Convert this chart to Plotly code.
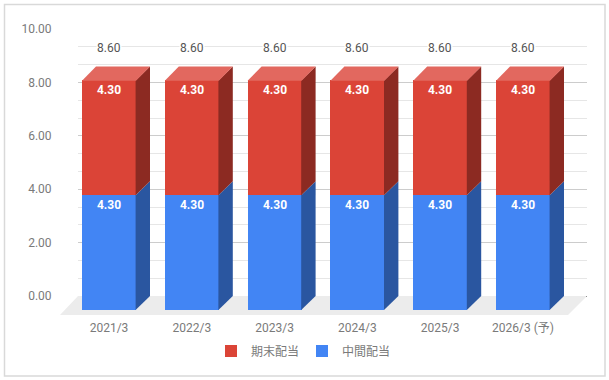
import plotly.graph_objects as go

categories = ["2021/3", "2022/3", "2023/3", "2024/3", "2025/3", "2026/3 (予)"]
interim = [4.30, 4.30, 4.30, 4.30, 4.30, 4.30]
final = [4.30, 4.30, 4.30, 4.30, 4.30, 4.30]
y_ticks = [0, 2, 4, 6, 8, 10]

W, H = 609, 380
FONT = "Roboto, 'Noto Sans CJK JP', sans-serif"
BLUE, BLUE_SIDE = "#4285f4", "#2a56a0"
RED, RED_SIDE, RED_TOP = "#db4437", "#8c2a22", "#e2685f"
GREY = "#7a7a7a"

# pixel scale of the chart
STEP_X, UNIT_Y = 82.8, 26.7
X0_PX, Y0_PX = 109, 310      # front-face origin (category 0, value 0)
BACK_Y0_PX, BACK_TOP_PX = 296, 29
BACK_L, BACK_R = 78, 587
BAR_W = 54 / STEP_X
DX, DY = 14 / STEP_X, 14 / UNIT_Y
SEAM_X, SEAM_Y = 0.4 / STEP_X, 0.4 / UNIT_Y

x_idx = list(range(len(categories)))
fig = go.Figure()

# invisible trace so the back plane axes are drawn
fig.add_trace(go.Scatter(x=[0], y=[0], mode="markers", marker=dict(opacity=0),
                         showlegend=False, hoverinfo="skip", xaxis="x", yaxis="y"))

fx = lambda px: (px - X0_PX) / STEP_X
fy = lambda py: (Y0_PX - py) / UNIT_Y


def poly(xs, ys, color):
    fig.add_trace(go.Scatter(x=xs, y=ys, mode="lines", fill="toself", fillcolor=color,
                             line=dict(width=0), showlegend=False, hoverinfo="skip",
                             xaxis="x2", yaxis="y2"))


for i, a, b in zip(x_idx, interim, final):
    l, r = i - BAR_W / 2, i + BAR_W / 2
    t = a + b
    s = r - SEAM_X
    poly([s, r + DX, r + DX, s, s], [0, DY, a + DY, a, 0], BLUE_SIDE)
    poly([s, r + DX, r + DX, s, s], [a, a + DY, t + DY, t, a], RED_SIDE)
    poly([l, l + DX, r + DX, r, l], [t - SEAM_Y, t + DY, t + DY, t - SEAM_Y, t - SEAM_Y], RED_TOP)

for name, vals, color, rank in [("中間配当", interim, BLUE, 2), ("期末配当", final, RED, 1)]:
    fig.add_trace(go.Bar(
        x=x_idx, y=vals, name=name, width=BAR_W, legendrank=rank,
        marker=dict(color=color, line=dict(width=0)),
        texttemplate="<b>%{y:.2f}</b>", textposition="inside", insidetextanchor="end",
        textangle=0, constraintext="none",
        textfont=dict(family=FONT, size=12, color="#ffffff"),
        xaxis="x2", yaxis="y2"))

annotations = [
    dict(x=i, y=a + b + 1.23, xref="x2", yref="y2", text=f"{a + b:.2f}", showarrow=False,
         bgcolor="#ffffff", borderpad=0, font=dict(family=FONT, size=12, color="#555555"))
    for i, a, b in zip(x_idx, interim, final)
]

floor_x = [fx(60), fx(78), fx(587), fx(568)]
floor_y = [fy(315), fy(296), fy(296), fy(315)]
floor_path = "M " + " L ".join(f"{x},{y}" for x, y in zip(floor_x, floor_y)) + " Z"

fig.update_layout(
    width=W, height=H, margin=dict(l=0, r=0, t=0, b=0, autoexpand=False),
    paper_bgcolor="#ffffff", plot_bgcolor="rgba(0,0,0,0)",
    barmode="stack", bargap=0, hovermode=False,
    font=dict(family=FONT, size=12, color=GREY),
    annotations=annotations,
    shapes=[dict(type="rect", xref="paper", yref="paper",
                 x0=4.5 / W, x1=605 / W, y0=1 - 376 / H, y1=1 - 4.5 / H,
                 line=dict(color="#d9d9d9", width=1.5), layer="below"),
            dict(type="path", xref="x2", yref="y2", path=floor_path,
                 fillcolor="#ececec", line=dict(width=0), layer="below")],
    legend=dict(orientation="h", x=302 / W, xanchor="center", y=1 - 351 / H, yanchor="middle",
                traceorder="normal", entrywidth=46,
                font=dict(family=FONT, size=12, color=GREY), bgcolor="rgba(0,0,0,0)"),
    xaxis=dict(domain=[BACK_L / W, BACK_R / W], anchor="y",
               range=[fx(BACK_L), fx(BACK_R)], showgrid=False, zeroline=False, showline=False,
               tickmode="array", tickvals=x_idx, ticktext=categories,
               ticks="outside", ticklen=21, tickcolor="rgba(0,0,0,0)",
               tickfont=dict(family=FONT, size=12, color=GREY)),
    yaxis=dict(domain=[1 - BACK_Y0_PX / H, 1 - BACK_TOP_PX / H], anchor="x",
               range=[0, 10], tickmode="array", tickvals=y_ticks, tickformat=".2f",
               showgrid=True, gridcolor="#cccccc", gridwidth=1,
               minor=dict(tickmode="linear", tick0=0, dtick=2 / 3, showgrid=True,
                          gridcolor="#e6e6e6", gridwidth=1, ticks=""),
               zeroline=True, zerolinecolor="#333333", zerolinewidth=1,
               ticks="outside", ticklen=23, tickcolor="rgba(0,0,0,0)",
               tickfont=dict(family=FONT, size=12, color=GREY)),
    xaxis2=dict(domain=[0, 1], anchor="y2", range=[fx(0), fx(W)], visible=False),
    yaxis2=dict(domain=[0, 1], anchor="x2", range=[fy(H), fy(0)], visible=False),
)

fig.write_html("out.html", config=dict(displayModeBar=False),
               post_script="document.body.style.margin='0';document.documentElement.style.overflow='hidden';")
